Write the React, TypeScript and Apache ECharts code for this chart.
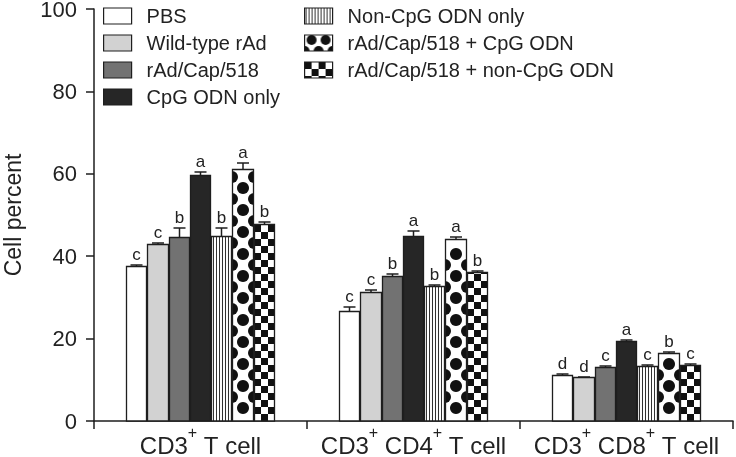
import { useEffect, useRef } from 'react';
import * as echarts from 'echarts';

const categories = ['CD3+ T cell', 'CD3+ CD4+ T cell', 'CD3+ CD8+ T cell'];
const treatments = [
  'PBS',
  'Wild-type rAd',
  'rAd/Cap/518',
  'CpG ODN only',
  'Non-CpG ODN only',
  'rAd/Cap/518 + CpG ODN',
  'rAd/Cap/518 + non-CpG ODN',
];
const pbs = [37.6, 26.7, 11.2];
const wildType = [43.0, 31.4, 10.6];
const rAdCap = [44.6, 35.3, 13.1];
const cpgOnly = [59.6, 44.9, 19.3];
const nonCpgOnly = [44.8, 32.7, 13.4];
const rAdCpg = [61.1, 44.2, 16.4];
const rAdNonCpg = [47.9, 36.1, 13.6];

const pbsErr = [0.3, 0.9, 0.2];
const wildTypeErr = [0.3, 0.4, 0.2];
const rAdCapErr = [2.3, 0.3, 0.3];
const cpgOnlyErr = [0.9, 1.2, 0.3];
const nonCpgOnlyErr = [2.0, 0.3, 0.3];
const rAdCpgErr = [1.5, 0.5, 0.3];
const rAdNonCpgErr = [0.3, 0.3, 0.3];

const pbsSig = ['c', 'c', 'd'];
const wildTypeSig = ['c', 'c', 'd'];
const rAdCapSig = ['b', 'b', 'c'];
const cpgOnlySig = ['a', 'a', 'a'];
const nonCpgOnlySig = ['b', 'b', 'c'];
const rAdCpgSig = ['a', 'a', 'b'];
const rAdNonCpgSig = ['b', 'b', 'c'];

const yTicks = [0, 20, 40, 60, 80, 100];

const values = [pbs, wildType, rAdCap, cpgOnly, nonCpgOnly, rAdCpg, rAdNonCpg];
const errors = [pbsErr, wildTypeErr, rAdCapErr, cpgOnlyErr, nonCpgOnlyErr, rAdCpgErr, rAdNonCpgErr];
const sigs = [pbsSig, wildTypeSig, rAdCapSig, cpgOnlySig, nonCpgOnlySig, rAdCpgSig, rAdNonCpgSig];

const FONT = "'Liberation Sans', Arial, Helvetica, sans-serif";
const INK = '#1e1e1e';
const fills = ['#ffffff', '#d2d2d2', '#727272', '#262626', '#ffffff', '#ffffff', '#ffffff'];
const patterns = ['none', 'none', 'none', 'none', 'vlines', 'dots', 'checker'];

function makeCanvas(kind: string): HTMLCanvasElement {
  const c = document.createElement('canvas');
  const ctx = c.getContext('2d')!;
  if (kind === 'vlines') {
    c.width = 3; c.height = 16;
    ctx.fillStyle = '#fff'; ctx.fillRect(0, 0, 3, 16);
    ctx.fillStyle = '#333'; ctx.fillRect(1, 0, 1, 16);
  } else if (kind === 'dots') {
    c.width = 14; c.height = 16;
    ctx.fillStyle = '#fff'; ctx.fillRect(0, 0, 14, 16);
    ctx.fillStyle = '#111';
    ctx.beginPath(); ctx.arc(7, 5, 5, 0, Math.PI * 2); ctx.fill();
    ctx.beginPath(); ctx.arc(0, 16, 5, 0, Math.PI * 2); ctx.fill();
    ctx.beginPath(); ctx.arc(14, 16, 5, 0, Math.PI * 2); ctx.fill();
  } else {
    c.width = 14; c.height = 14;
    ctx.fillStyle = '#fff'; ctx.fillRect(0, 0, 14, 14);
    ctx.fillStyle = '#111';
    ctx.fillRect(0, 0, 7, 7); ctx.fillRect(7, 7, 7, 7);
  }
  return c;
}

export default function App() {
  const ref = useRef<HTMLDivElement>(null);
  useEffect(() => {
    if (!ref.current) return;
    const chart = echarts.init(ref.current, undefined, { renderer: 'svg' });

    const legendColor = (i: number) => {
      if (patterns[i] === 'none') return fills[i];
      const cv = makeCanvas(patterns[i]);
      return { image: cv, repeat: 'repeat', imageWidth: cv.width, imageHeight: cv.height } as any;
    };
    const legendData = treatments.map((name, i) => ({
      name,
      icon: 'rect',
      itemStyle: { color: legendColor(i), borderColor: INK, borderWidth: 1.2 },
    }));

    const makeRender = (idx: number) => (params: any, api: any) => {
      const ci = api.value(0);
      const v = api.value(1);
      const e = api.value(2);
      const base = api.coord([ci, 0]);
      const band = api.size([1, 0])[0];
      const bw = (band * 0.7) / 7;
      const x0 = base[0] - band * 0.35 + idx * bw;
      const xl = Math.round(x0);
      const xr = Math.round(x0 + bw);
      const yb = Math.round(base[1]);
      const yt = Math.round(api.coord([ci, v])[1]);
      const ye = Math.round(api.coord([ci, v + e])[1]);
      const w = xr - xl;
      const h = yb - yt;
      const cx = xl + w / 2;
      const children: any[] = [];
      children.push({ type: 'rect', shape: { x: xl, y: yt, width: w, height: h }, style: { fill: fills[idx] } });
      const pat = patterns[idx];
      if (pat === 'vlines') {
        for (let x = xl + 2; x < xr - 1; x += 3) {
          children.push({ type: 'line', shape: { x1: x + 0.5, y1: yt, x2: x + 0.5, y2: yb }, style: { stroke: '#333', lineWidth: 1 } });
        }
      } else if (pat === 'checker') {
        const s = w / 3;
        for (let r = 0; yb - r * s > yt + 0.5; r++) {
          const rb = yb - r * s;
          const rt = Math.max(yt, yb - (r + 1) * s);
          for (let c = 0; c < 3; c++) {
            if ((r + c) % 2 === 1) {
              children.push({ type: 'rect', shape: { x: xl + c * s, y: rt, width: s, height: rb - rt }, style: { fill: '#111' } });
            }
          }
        }
      } else if (pat === 'dots') {
        const rad = 6;
        const p = 22;
        for (let k = 0; ; k++) {
          const cy = yb - 13 - k * p;
          if (cy - rad < yt + 1) break;
          children.push({ type: 'circle', shape: { cx, cy, r: rad }, style: { fill: '#111' } });
        }
        for (let k = 0; ; k++) {
          const cy = yb - 2 - k * p;
          if (cy - rad < yt + 1) break;
          if (cy + rad > yb) continue;
          children.push({ type: 'sector', shape: { cx: xl, cy, r0: 0, r: rad, startAngle: -Math.PI / 2, endAngle: Math.PI / 2, clockwise: true }, style: { fill: '#111' } });
          children.push({ type: 'sector', shape: { cx: xr, cy, r0: 0, r: rad, startAngle: Math.PI / 2, endAngle: (3 * Math.PI) / 2, clockwise: true }, style: { fill: '#111' } });
        }
      }
      children.push({ type: 'rect', shape: { x: xl + 0.5, y: yt + 0.5, width: w - 1, height: h - 0.5 }, style: { fill: 'none', stroke: INK, lineWidth: 1.3 } });
      children.push({ type: 'line', shape: { x1: cx, y1: yt, x2: cx, y2: ye }, style: { stroke: INK, lineWidth: 1.5 } });
      children.push({ type: 'line', shape: { x1: cx - 6, y1: ye, x2: cx + 6, y2: ye }, style: { stroke: INK, lineWidth: 1.5 } });
      children.push({
        type: 'text',
        style: {
          text: sigs[idx][params.dataIndex],
          x: cx,
          y: ye - 2,
          textAlign: 'center',
          textVerticalAlign: 'bottom',
          fontSize: 17,
          fontFamily: FONT,
          fill: '#222',
        },
      });
      return { type: 'group', children };
    };

    const series = treatments.map((name, idx) => ({
      name,
      type: 'custom',
      renderItem: makeRender(idx),
      encode: { x: 0, y: 1 },
      itemStyle: { color: fills[idx] },
      data: categories.map((_, ci) => [ci, values[idx][ci], errors[idx][ci]]),
      z: 2,
    }));

    const legendBase = {
      orient: 'vertical',
      top: 1,
      itemWidth: 28,
      itemHeight: 16,
      itemGap: 7,
      selectedMode: false,
      textStyle: { fontSize: 20, color: '#222', fontFamily: FONT, padding: [0, 0, 0, 10] },
    };

    chart.setOption({
      animation: false,
      textStyle: { fontFamily: FONT },
      grid: { left: 94, right: 3, top: 9, bottom: 36, containLabel: false, outerBoundsMode: 'none' },
      legend: [
        { ...legendBase, left: 98, data: legendData.slice(0, 4) },
        { ...legendBase, left: 299, data: legendData.slice(4) },
      ],
      xAxis: {
        type: 'category',
        data: categories,
        axisLine: { lineStyle: { color: INK, width: 1.5 } },
        axisTick: { show: true, length: 8, lineStyle: { color: INK, width: 1.5 } },
        axisLabel: {
          margin: 18,
          interval: 0,
          formatter: (val: string) =>
            val
              .split(' ')
              .map((part) => (part.endsWith('+') ? `{a|${part.slice(0, -1)}}{s|+}` : `{a|${part}}`))
              .join('{a| }'),
          rich: {
            a: { fontSize: 24, color: '#222', fontFamily: FONT, lineHeight: 18, verticalAlign: 'bottom' },
            s: { fontSize: 16, color: '#222', fontFamily: FONT, lineHeight: 10, padding: [0, 0, 17, 0], verticalAlign: 'bottom' },
          },
        },
      },
      yAxis: {
        type: 'value',
        min: yTicks[0],
        max: yTicks[yTicks.length - 1],
        interval: 20,
        name: 'Cell percent',
        nameLocation: 'middle',
        nameGap: 71,
        nameTextStyle: { fontSize: 23, color: '#222', fontFamily: FONT, lineHeight: 20 },
        axisLine: { show: true, lineStyle: { color: INK, width: 1.5 } },
        axisTick: { show: true, length: 8, lineStyle: { color: INK, width: 1.5 } },
        axisLabel: { fontSize: 22, color: '#222', margin: 17, fontFamily: FONT, lineHeight: 16 },
        splitLine: { show: false },
      },
      series,
    });
    return () => chart.dispose();
  }, []);
  return <div ref={ref} style={{ position: 'fixed', left: 0, top: 0, width: 736, height: 457 }} />;
}
